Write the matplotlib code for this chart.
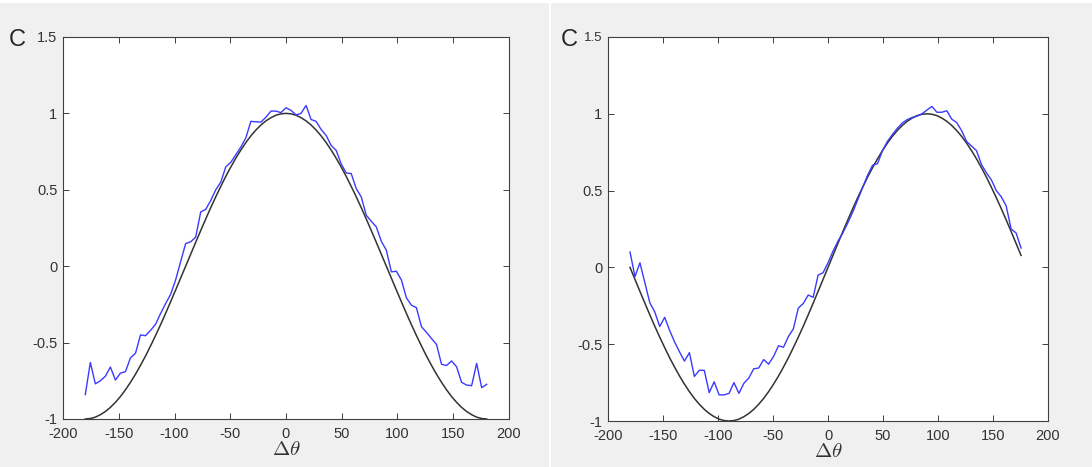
import matplotlib

matplotlib.use("Agg")
import matplotlib.pyplot as plt
from matplotlib.patches import Rectangle

# angle grid, 4.5 degree steps
theta_left = [-180 + 4.5 * k for k in range(81)]
theta_right = [-180 + 4.5 * k for k in range(80)]

# measured response (blue), left panel
blue_left = [
    -0.84, -0.63, -0.77, -0.75, -0.72, -0.66, -0.745, -0.70, -0.69, -0.60,
    -0.57, -0.45, -0.455, -0.42, -0.38, -0.31, -0.245, -0.185, -0.09, 0.03,
    0.148, 0.16, 0.19, 0.355, 0.372, 0.43, 0.50, 0.55, 0.65, 0.68,
    0.73, 0.78, 0.84, 0.948, 0.945, 0.943, 0.975, 1.015, 1.015, 1.005,
    1.037, 1.02, 0.99, 1.0, 1.052, 0.96, 0.948, 0.895, 0.856, 0.79,
    0.758, 0.67, 0.61, 0.606, 0.508, 0.453, 0.333, 0.294, 0.257, 0.163,
    0.105, -0.037, -0.033, -0.09, -0.207, -0.255, -0.272, -0.396, -0.433, -0.473,
    -0.512, -0.642, -0.65, -0.62, -0.658, -0.76, -0.778, -0.782, -0.636, -0.795,
    -0.773,
]

# model curve (black), left panel
model_left = [
    -1.0, -0.997, -0.988, -0.972, -0.951, -0.924, -0.891, -0.853, -0.809, -0.760,
    -0.707, -0.649, -0.588, -0.522, -0.454, -0.383, -0.309, -0.233, -0.156, -0.078,
    0.0, 0.078, 0.156, 0.233, 0.309, 0.383, 0.454, 0.522, 0.588, 0.649,
    0.707, 0.760, 0.809, 0.853, 0.891, 0.924, 0.951, 0.972, 0.988, 0.997,
    1.0, 0.997, 0.988, 0.972, 0.951, 0.924, 0.891, 0.853, 0.809, 0.760,
    0.707, 0.649, 0.588, 0.522, 0.454, 0.383, 0.309, 0.233, 0.156, 0.078,
    0.0, -0.078, -0.156, -0.233, -0.309, -0.383, -0.454, -0.522, -0.588, -0.649,
    -0.707, -0.760, -0.809, -0.853, -0.891, -0.924, -0.951, -0.972, -0.988, -0.997,
    -1.0,
]

# measured response (blue), right panel
blue_right = [
    0.10, -0.06, 0.03, -0.10, -0.23, -0.29, -0.385, -0.325, -0.41, -0.485,
    -0.55, -0.61, -0.555, -0.71, -0.67, -0.67, -0.815, -0.745, -0.83, -0.83,
    -0.82, -0.75, -0.82, -0.755, -0.72, -0.66, -0.655, -0.60, -0.63, -0.58,
    -0.51, -0.52, -0.45, -0.40, -0.265, -0.235, -0.18, -0.195, -0.05, -0.035,
    0.03, 0.105, 0.17, 0.225, 0.29, 0.36, 0.44, 0.52, 0.60, 0.665,
    0.675, 0.76, 0.82, 0.865, 0.905, 0.94, 0.962, 0.976, 0.985, 1.0,
    1.025, 1.048, 1.01, 1.01, 1.02, 0.965, 0.943, 0.89, 0.82, 0.79,
    0.76, 0.67, 0.616, 0.57, 0.50, 0.46, 0.40, 0.25, 0.224, 0.126,
]

# model curve (black), right panel
model_right = [
    0.0, -0.078, -0.156, -0.233, -0.309, -0.383, -0.454, -0.522, -0.588, -0.649,
    -0.707, -0.760, -0.809, -0.853, -0.891, -0.924, -0.951, -0.972, -0.988, -0.997,
    -1.0, -0.997, -0.988, -0.972, -0.951, -0.924, -0.891, -0.853, -0.809, -0.760,
    -0.707, -0.649, -0.588, -0.522, -0.454, -0.383, -0.309, -0.233, -0.156, -0.078,
    0.0, 0.078, 0.156, 0.233, 0.309, 0.383, 0.454, 0.522, 0.588, 0.649,
    0.707, 0.760, 0.809, 0.853, 0.891, 0.924, 0.951, 0.972, 0.988, 0.997,
    1.0, 0.997, 0.988, 0.972, 0.951, 0.924, 0.891, 0.853, 0.809, 0.760,
    0.707, 0.649, 0.588, 0.522, 0.454, 0.383, 0.309, 0.233, 0.156, 0.078,
]

x_ticks = [-200, -150, -100, -50, 0, 50, 100, 150, 200]
x_tick_labels = ["-200", "-150", "-100", "-50", "0", "50", "100", "150", "200"]
y_ticks = [-1, -0.5, 0, 0.5, 1, 1.5]
y_tick_labels = ["-1", "-0.5", "0", "0.5", "1", "1.5"]

BG = "#f0f0f0"
AX_COLOR = "#404040"
BLUE = "#3a3aff"

plt.rcParams["font.family"] = ["Liberation Sans", "DejaVu Sans"]
plt.rcParams["mathtext.fontset"] = "cm"

fig = plt.figure(figsize=(10.92, 4.67), dpi=100, facecolor=BG)
# thin white seams of the original screenshot
fig.patches.append(Rectangle((0, 0.993), 1, 0.007, transform=fig.transFigure,
                             facecolor="white", edgecolor="none"))
fig.patches.append(Rectangle((0.5025, 0), 0.002, 1, transform=fig.transFigure,
                             facecolor="white", edgecolor="none"))


def style_axes(ax):
    ax.set_xlim(-200, 200)
    ax.set_ylim(-1, 1.5)
    ax.set_xticks(x_ticks)
    ax.set_xticklabels(x_tick_labels)
    ax.set_yticks(y_ticks)
    ax.set_yticklabels(y_tick_labels)
    ax.tick_params(direction="in", length=4, width=0.7, color=AX_COLOR,
                   labelcolor="#333333", labelsize=10.5,
                   top=True, right=True)
    ax.tick_params(axis="x", pad=6)
    ax.tick_params(axis="y", pad=4)
    for spine in ax.spines.values():
        spine.set_color(AX_COLOR)
        spine.set_linewidth(0.8)
    ax.set_xlabel(r"$\Delta\theta$", fontsize=15, color="#333333", labelpad=-1)


ax1 = fig.add_axes([0.0577, 0.1028, 0.4084, 0.818])
ax1.plot(theta_left, model_left, color="#333333", lw=1.1)
ax1.plot(theta_left, blue_left, color=BLUE, lw=1.0)
style_axes(ax1)

ax2 = fig.add_axes([0.5568, 0.0985, 0.4029, 0.8223])
ax2.plot(theta_right, model_right, color="#333333", lw=1.1)
ax2.plot(theta_right, blue_right, color=BLUE, lw=1.0)
style_axes(ax2)
# the top label of the right panel is printed a bit smaller in the original
ax2.get_yticklabels()[-1].set_fontsize(9.5)

fig.text(17 / 1092, 1 - 40 / 467, "C", fontsize=17, color="#262626",
         ha="center", va="center")
fig.text(569 / 1092, 1 - 40 / 467, "C", fontsize=17, color="#262626",
         ha="center", va="center")

fig.savefig("out.png", dpi=100, facecolor=BG)
plt.close(fig)
